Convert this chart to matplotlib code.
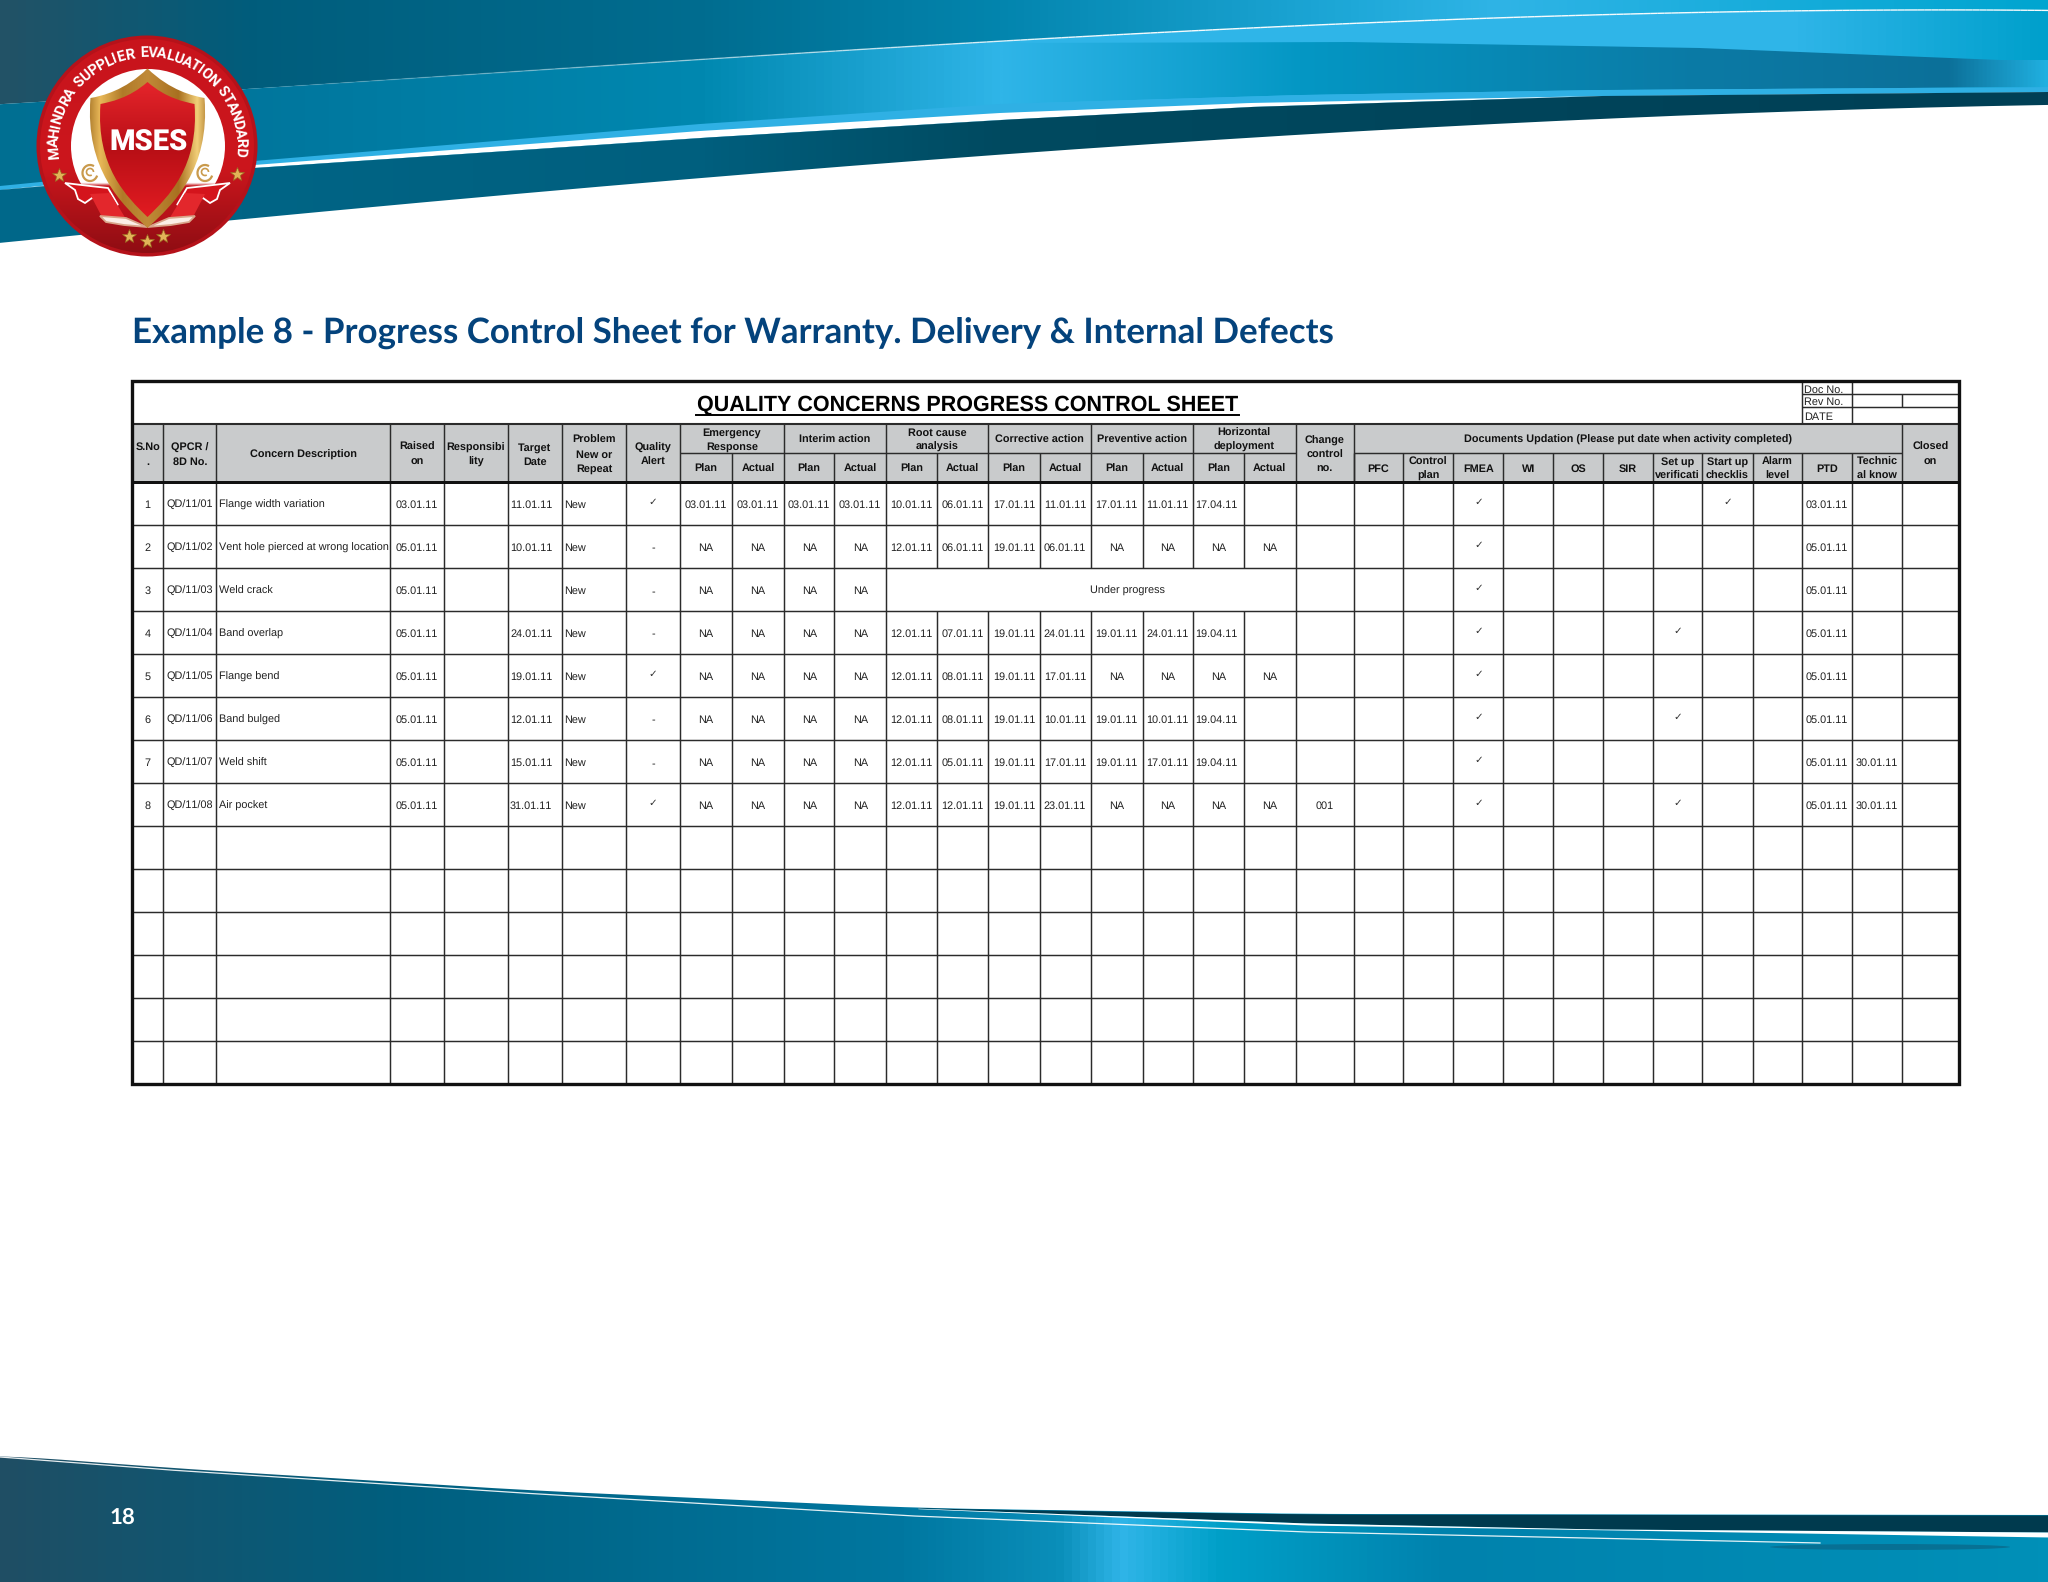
import numpy as np
import matplotlib
matplotlib.use('Agg')
import matplotlib.pyplot as plt
from matplotlib.collections import LineCollection
from matplotlib.colors import LinearSegmentedColormap
from matplotlib.patches import Arc, Circle, Ellipse, PathPatch, Polygon
from matplotlib.path import Path

plt.rcParams['text.hinting'] = 'no_hinting'
plt.rcParams['text.kerning_factor'] = 6

W, H = 2048, 1582
ARIAL = ['Liberation Sans', 'DejaVu Sans']
CK = '\u2713'

heading = 'Example 8 - Progress Control Sheet for Warranty. Delivery & Internal Defects'
sheet_title = 'QUALITY CONCERNS PROGRESS CONTROL SHEET'
page_number = '18'
logo_ring = 'MAHINDRA SUPPLIER EVALUATION STANDARD'

top_headers = ['S.No\n.', 'QPCR /\n8D No.', 'Concern Description', 'Raised\non', 'Responsibi\nlity',
               'Target\nDate', 'Problem\nNew or\nRepeat', 'Quality\nAlert']
group_headers = ['Emergency\nResponse', 'Interim action', 'Root cause\nanalysis', 'Corrective action',
                 'Preventive action', 'Horizontal\ndeployment']
doc_group = 'Documents Updation (Please put date when activity completed)'
change_header = 'Change\ncontrol\nno.'
closed_header = 'Closed\non'
doc_headers = ['PFC', 'Control\nplan', 'FMEA', 'WI', 'OS', 'SIR', 'Set up\nverificati', 'Start up\nchecklis',
               'Alarm\nlevel', 'PTD', 'Technic\nal know']
doc_box_labels = ['Doc No.', 'Rev No.', 'DATE']

sno = ['1', '2', '3', '4', '5', '6', '7', '8']
qpcr = ['QD/11/01', 'QD/11/02', 'QD/11/03', 'QD/11/04', 'QD/11/05', 'QD/11/06', 'QD/11/07', 'QD/11/08']
concern = ['Flange width variation', 'Vent hole pierced at wrong location', 'Weld crack', 'Band overlap',
           'Flange bend', 'Band bulged', 'Weld shift', 'Air pocket']
raised = ['03.01.11', '05.01.11', '05.01.11', '05.01.11', '05.01.11', '05.01.11', '05.01.11', '05.01.11']
responsibility = ['', '', '', '', '', '', '', '']
target = ['11.01.11', '10.01.11', '', '24.01.11', '19.01.11', '12.01.11', '15.01.11', '31.01.11']
problem = ['New', 'New', 'New', 'New', 'New', 'New', 'New', 'New']
alert = [CK, '-', '-', '-', CK, '-', '-', CK]
er_plan = ['03.01.11', 'NA', 'NA', 'NA', 'NA', 'NA', 'NA', 'NA']
er_actual = ['03.01.11', 'NA', 'NA', 'NA', 'NA', 'NA', 'NA', 'NA']
int_plan = ['03.01.11', 'NA', 'NA', 'NA', 'NA', 'NA', 'NA', 'NA']
int_actual = ['03.01.11', 'NA', 'NA', 'NA', 'NA', 'NA', 'NA', 'NA']
rc_plan = ['10.01.11', '12.01.11', '', '12.01.11', '12.01.11', '12.01.11', '12.01.11', '12.01.11']
rc_actual = ['06.01.11', '06.01.11', '', '07.01.11', '08.01.11', '08.01.11', '05.01.11', '12.01.11']
ca_plan = ['17.01.11', '19.01.11', '', '19.01.11', '19.01.11', '19.01.11', '19.01.11', '19.01.11']
ca_actual = ['11.01.11', '06.01.11', '', '24.01.11', '17.01.11', '10.01.11', '17.01.11', '23.01.11']
pa_plan = ['17.01.11', 'NA', '', '19.01.11', 'NA', '19.01.11', '19.01.11', 'NA']
pa_actual = ['11.01.11', 'NA', '', '24.01.11', 'NA', '10.01.11', '17.01.11', 'NA']
hd_plan = ['17.04.11', 'NA', '', '19.04.11', 'NA', '19.04.11', '19.04.11', 'NA']
hd_actual = ['', 'NA', '', '', 'NA', '', '', 'NA']
change_no = ['', '', '', '', '', '', '', '001']
blank = ['', '', '', '', '', '', '', '']
fmea = [CK, CK, CK, CK, CK, CK, CK, CK]
setup = ['', '', '', CK, '', CK, '', CK]
startup = [CK, '', '', '', '', '', '', '']
ptd = ['03.01.11', '05.01.11', '05.01.11', '05.01.11', '05.01.11', '05.01.11', '05.01.11', '05.01.11']
technical = ['', '', '', '', '', '', '30.01.11', '30.01.11']
under_progress = 'Under progress'

body_columns = [sno, qpcr, concern, raised, responsibility, target, problem, alert,
                er_plan, er_actual, int_plan, int_actual, rc_plan, rc_actual, ca_plan, ca_actual,
                pa_plan, pa_actual, hd_plan, hd_actual, change_no, blank, blank, fmea, blank, blank, blank,
                setup, startup, blank, ptd, technical, blank]
left_aligned = [2, 5, 6, 18]

# table layout, in pixels of the page
edges = [132, 163.3, 216.4, 389.6, 444, 507.5, 562, 626, 680, 732, 784, 834.4, 886, 936.6, 988.3, 1039.6,
         1090.5, 1142.5, 1193, 1244, 1295.6, 1353.5, 1403.4, 1453.2, 1503.4, 1553, 1603, 1653.3, 1702.3,
         1752.5, 1802.4, 1852, 1902, 1959]
y_top, y_title, y_mid, y_head = 381, 424, 453, 481.7
row_h = 43
n_rows = 14
y_bottom = y_head + n_rows * row_h
INK = '#2b2b2b'
HEAD_GREY = '#c9cbcc'


def curve(xs, ys, x_new):
    return np.polyval(np.polyfit(xs, ys, 3), x_new)


def grad_fill(ax, clip, x0, x1, y0, y1, stops, vertical=False, zorder=1):
    cmap = LinearSegmentedColormap.from_list('g', stops)
    ramp = np.linspace(0, 1, 512)
    ramp = ramp.reshape(-1, 1) if vertical else ramp.reshape(1, -1)
    im = ax.imshow(ramp, extent=(x0, x1, y1, y0), cmap=cmap, aspect='auto', zorder=zorder,
                   interpolation='bilinear')
    patch = PathPatch(clip, transform=ax.transData, fc='none', ec='none')
    ax.add_patch(patch)
    im.set_clip_path(patch)
    return im


def stops_x(pairs, x0=0, x1=W):
    return [((x - x0) / (x1 - x0), c) for x, c in pairs]


def band(xs, y_up, y_low):
    verts = np.vstack([np.column_stack([xs, y_up]), np.column_stack([xs[::-1], y_low[::-1]])])
    return Path(verts)


def shield_path(cx, top, hw, sh, bottom):
    v = [(cx, top),
         (cx + hw * 0.4, top + (sh - top) * 0.75), (cx + hw * 0.8, sh - 2), (cx + hw, sh),
         (cx + hw * 1.1, sh + (bottom - sh) * 0.55), (cx + hw * 0.45, bottom - (bottom - sh) * 0.18), (cx, bottom),
         (cx - hw * 0.45, bottom - (bottom - sh) * 0.18), (cx - hw * 1.1, sh + (bottom - sh) * 0.55), (cx - hw, sh),
         (cx - hw * 0.8, sh - 2), (cx - hw * 0.4, top + (sh - top) * 0.75), (cx, top)]
    return Path(v, [Path.MOVETO] + [Path.CURVE4] * 12)


fig = plt.figure(figsize=(W / 100, H / 100), dpi=100, facecolor='white')
ax = fig.add_axes([0, 0, 1, 1])
ax.set_axis_off()

# header banner
xs = np.linspace(0, W, 300)
line1 = curve([0, 240, 700, 1000, 1400, 1700, 2048], [105, 88, 60, 42, 21, 12, 10.7], xs)
dark_top = np.interp(xs, [0, 254, 700, 1000, 1250, 1600, 2048], [190, 168, 138, 120, 107, 96, 92])
dark_low = curve([0, 232, 700, 1000, 1530, 2048], [243, 220, 178, 155, 122, 105], xs)
streak_top = np.interp(xs, [0, 254, 700, 1000, 1300, 1600, 2048], [186, 161, 124, 104, 95, 90, 87])
white_top = np.interp(xs, [0, 254, 700, 1000, 1250, 1600, 2048], [190, 165, 131, 113, 103, 96, 92])
lens_top = np.interp(xs, [1000, 1347, 1700, 2000, 2048], [43, 42, 48, 60, 60])

grad_fill(ax, band(xs, np.zeros_like(xs), line1), 0, W, 0, 120,
          stops_x([(0, '#225266'), (250, '#005d7c'), (700, '#006d90'), (1000, '#0385ae'),
                   (1350, '#1ea8d8'), (1500, '#2fb4e6'), (2048, '#00a5d0')]))
grad_fill(ax, band(xs, line1, dark_top), 0, W, 0, 200,
          stops_x([(0, '#006f92'), (300, '#00789f'), (700, '#0088b0'), (1000, '#2fb5e8'),
                   (1800, '#2fb5e8'), (2048, '#00a0cc')]), zorder=1.1)
mask = xs >= 1000
grad_fill(ax, band(xs[mask], lens_top[mask], streak_top[mask]), 1000, W, 0, 200,
          stops_x([(1000, '#2fb5e8'), (1300, '#0497c4'), (1700, '#0b7aa5'), (1950, '#0c7099'),
                   (2048, '#20b0e0')], 1000, W), zorder=1.2)
ax.fill_between(xs, streak_top, dark_top, color='#2fb0e4', lw=0, zorder=1.3)
ax.fill_between(xs, white_top, dark_top, color='white', lw=0, zorder=1.4)
grad_fill(ax, band(xs, dark_top, dark_low), 0, W, 0, 260,
          stops_x([(0, '#00688a'), (700, '#005f7e'), (1000, '#004a60'), (2048, '#003f55')]), zorder=1.5)
# thin highlight fades out towards the logo
pts = np.column_stack([xs, line1])
segs = np.stack([pts[:-1], pts[1:]], axis=1)
fade = np.clip((xs[:-1] - 240) / 900, 0, 1) * 0.95
ax.add_collection(LineCollection(segs, colors=[(1, 1, 1, a) for a in fade], linewidths=1.0, zorder=1.6))

# footer
fx = [0, 170, 522, 914, 1306, 2048]
foot_top = np.interp(xs, fx, [1455, 1468, 1490, 1508, 1514, 1515])
foot_top = np.convolve(np.pad(foot_top, 10, mode='edge'), np.ones(21) / 21, mode='valid')
grad_fill(ax, band(xs, foot_top, np.full_like(xs, H)), 0, W, 1440, H,
          stops_x([(0, '#1f4e64'), (400, '#005f7f'), (900, '#0077a0'), (1060, '#0a8fba'), (1123, '#2fb5e8'),
                   (1220, '#00a0c8'), (1450, '#0082ad'), (2048, '#0090b8')]))
fd = xs >= 914
dark2_low = np.interp(xs[fd], [914, 1306, 1600, 2048], [1508, 1523, 1529, 1532])
ax.fill_between(xs[fd], foot_top[fd], dark2_low, color='#003a4e', lw=0, zorder=1.3)
white2_low = np.interp(xs[fd], [914, 1306, 2048], [1508.5, 1525, 1537])
ax.fill_between(xs[fd], dark2_low, white2_low, color='white', lw=0, zorder=1.3)
thin_x = np.linspace(0, 1820, 200)
ax.plot(thin_x, np.interp(thin_x, [0, 170, 522, 914, 1306, 1820], [1457, 1470, 1493, 1516, 1532, 1543]),
        color='white', lw=0.9, alpha=0.9, zorder=1.4)
ax.add_patch(Ellipse((1890, 1547), 240, 6, color='#0a6a8c', lw=0, alpha=0.8, zorder=1.4))
ax.text(122, 1518, page_number, color='white', fontsize=16, family=['Lato', 'DejaVu Sans'], ha='center', va='center',
        weight='bold', zorder=3)

# logo
cx, cy = 147, 146
ax.add_patch(Circle((cx, cy), 110.5, fc='#b5121a', ec='none', zorder=4))
grad_fill(ax, Path.circle((cx, cy), 107), cx - 107, cx + 107, cy - 107, cy + 107,
          [(0, '#c8141c'), (0.6, '#cc161d'), (1, '#8f0d13')], vertical=True, zorder=4.1)
grad_fill(ax, Path.circle((cx + 1, cy), 77), cx - 77, cx + 79, cy - 77, cy + 77,
          [(0, '#ffffff'), (0.74, '#ffffff'), (0.76, '#c5151c'), (1, '#b5121a')], vertical=True, zorder=4.2)

ring_weights = {' ': 0.55, 'I': 0.55, 'M': 1.3, 'E': 0.9, 'L': 0.85, 'T': 0.9, 'R': 1.0, 'D': 1.05}
weights = np.array([ring_weights.get(c, 1.0) for c in logo_ring])
centers = np.cumsum(weights) - weights / 2
angles = -98 + 195 * centers / weights.sum()
for ch, a in zip(logo_ring, angles):
    t = np.radians(a)
    ax.text(cx + 93 * np.sin(t), cy - 93 * np.cos(t), ch, color='white', fontsize=10.5,
            family=['Roboto', 'DejaVu Sans'], weight='bold', rotation=-a, rotation_mode='anchor',
            ha='center', va='center', zorder=5)

# ribbon: tail, fold and white scroll on each side
tail_l = [(65, 183), (90, 186), (108, 188), (118, 205), (92, 198), (85, 203), (78, 199), (75, 190)]
fold_l = [(90, 194), (110, 193), (126, 219), (102, 217)]
scroll_l = [(100, 216), (126, 218), (147, 227), (124, 225), (106, 222)]
for pts_l, fc, ec in ((tail_l, '#d4141c', 'white'), (fold_l, '#e3272c', 'none'), (scroll_l, '#fbeee6', '#d9a58a')):
    ax.add_patch(Polygon(pts_l, fc=fc, ec=ec, lw=1.3, zorder=5.1))
    ax.add_patch(Polygon([(2 * cx + 1 - x, y) for x, y in pts_l], fc=fc, ec=ec, lw=1.3, zorder=5.1))
for curl_x in (90, 205):
    ax.add_patch(Arc((curl_x, 173), 15, 16, theta1=20, theta2=300, ec='#c99a4c', lw=1.6, zorder=5.1))
    ax.add_patch(Arc((curl_x, 172), 7, 7, theta1=60, theta2=360, ec='#c99a4c', lw=1.2, zorder=5.1))
ax.plot([59, 237, 129, 147, 163], [175, 174, 236, 241, 236], ls='none', marker='*', ms=10, mfc='#e2b458',
        mec='#9a6a20', mew=0.5, zorder=5.2)
grad_fill(ax, shield_path(cx + 0.5, 68.5, 57, 98, 228), cx - 62, cx + 63, 60, 235,
          [(0, '#9c6a20'), (0.12, '#e8b858'), (0.3, '#b07a28'), (0.5, '#c08a38'), (0.75, '#a87020'),
           (0.9, '#f2cf78'), (1, '#a87428')], zorder=5.3)
grad_fill(ax, shield_path(cx + 0.5, 82, 47, 104, 217), cx - 52, cx + 53, 78, 220,
          [(0, '#e8262c'), (0.5, '#b80f16'), (1, '#e41c22')], vertical=True, zorder=5.4)
ax.text(cx + 1.5, 143, 'MSES', color='white', fontsize=21, family=['Roboto', 'DejaVu Sans'], weight='black',
        ha='center', va='center', zorder=5.5)

# page heading
ax.text(132, 343, heading, color='#04437c', fontsize=25.15, family=['Lato', 'DejaVu Sans'], weight='bold',
        ha='left', va='baseline')

# sheet frame
ax.fill_between([edges[0], edges[-1]], y_title, y_head, color=HEAD_GREY, lw=0, zorder=2)
ax.text(967.5, 404.5, sheet_title, fontsize=15.5, family=ARIAL, weight='bold', color='black', ha='center', va='center',
        zorder=6)
ax.plot([696, 1239], [414.5, 414.5], color='black', lw=1.4, zorder=6)

thin = 1.05
row_lines = [y_head + i * row_h for i in range(1, n_rows)]
ax.hlines(row_lines, edges[0], edges[-1], color=INK, lw=thin, zorder=3)
for i, x in enumerate(edges[1:-1], start=1):
    if 13 <= i <= 19:
        ax.vlines(x, y_head, y_head + 2 * row_h, color=INK, lw=thin, zorder=3)
        ax.vlines(x, y_head + 3 * row_h, y_bottom, color=INK, lw=thin, zorder=3)
    else:
        ax.vlines(x, y_head, y_bottom, color=INK, lw=thin, zorder=3)

head_kw = dict(family=ARIAL, weight='bold', fontsize=7.8, color='#111111', ha='center', va='center', linespacing=1.5,
               zorder=6)
body_kw = dict(family=ARIAL, fontsize=7.8, color='#222222', va='baseline', zorder=6)


def mid(a, b):
    return (edges[a] + edges[b]) / 2


y_head_mid = (y_title + y_head) / 2 + 1.8
y_group_mid = (y_title + y_mid) / 2 + 1.5
for i, label in enumerate(top_headers):
    ax.text(mid(i, i + 1), y_head_mid, label, **head_kw)
    if i > 0:
        ax.vlines(edges[i], y_title, y_head, color=INK, lw=thin, zorder=3)
for g, label in enumerate(group_headers):
    a = 8 + 2 * g
    ax.text(mid(a, a + 2), y_group_mid, label, **head_kw)
    ax.text(mid(a, a + 1), 469, 'Plan', **head_kw)
    ax.text(mid(a + 1, a + 2), 469, 'Actual', **head_kw)
    ax.vlines(edges[a], y_title, y_head, color=INK, lw=thin, zorder=3)
    ax.vlines(edges[a + 1], y_mid, y_head, color=INK, lw=thin, zorder=3)
ax.hlines(y_mid, edges[8], edges[20], color=INK, lw=thin, zorder=3)
ax.hlines(y_mid, edges[21], edges[32], color=INK, lw=thin, zorder=3)
ax.vlines([edges[20], edges[21], edges[32]], y_title, y_head, color=INK, lw=thin, zorder=3)
ax.text(mid(20, 21), y_head_mid, change_header, **head_kw)
ax.text(mid(21, 32), y_group_mid, doc_group, **head_kw)
ax.text(mid(32, 33), y_head_mid, closed_header, **head_kw)
for j, label in enumerate(doc_headers):
    ax.text(mid(21 + j, 22 + j), 469, label, **head_kw)
    ax.vlines(edges[21 + j], y_mid, y_head, color=INK, lw=thin, zorder=3)

for c, values in enumerate(body_columns):
    for r, value in enumerate(values):
        if not value:
            continue
        y = y_head + (r + 0.5) * row_h
        if value == CK:
            ax.text(mid(c, c + 1), y - 1, value, family=['DejaVu Sans'], fontsize=7.5, color='#333333',
                    ha='center', va='center', zorder=6)
        elif c in left_aligned and value != 'NA':
            ax.text(edges[c] + 2.5, y + 4.8, value, ha='left', **body_kw)
        else:
            ax.text(mid(c, c + 1), y + 4.8, value, ha='center', **body_kw)
ax.text(1127, y_head + 2.5 * row_h + 4.2, under_progress, ha='center', **body_kw)

# document box
ax.hlines([394, 406.5], edges[30], edges[33], color=INK, lw=thin, zorder=3)
ax.vlines([edges[30], edges[31]], y_top, y_title, color=INK, lw=thin, zorder=3)
ax.vlines(edges[32], 394, 406.5, color=INK, lw=thin, zorder=3)
for label, y in zip(doc_box_labels, [392.5, 404.5, 419.5]):
    ax.text(edges[30] + 2, y, label, ha='left', **body_kw)

thick = 2.4
ax.hlines(y_title, edges[0], edges[-1], color=INK, lw=1.5, zorder=3.5)
ax.hlines(y_head, edges[0], edges[-1], color='#111111', lw=thick * 0.9, zorder=3.5)
ax.add_patch(Polygon([(edges[0], y_top), (edges[-1], y_top), (edges[-1], y_bottom), (edges[0], y_bottom)],
                     fc='none', ec='#111111', lw=thick, zorder=4))

ax.set_xlim(0, W)
ax.set_ylim(H, 0)
fig.savefig('out.png', dpi=100)
